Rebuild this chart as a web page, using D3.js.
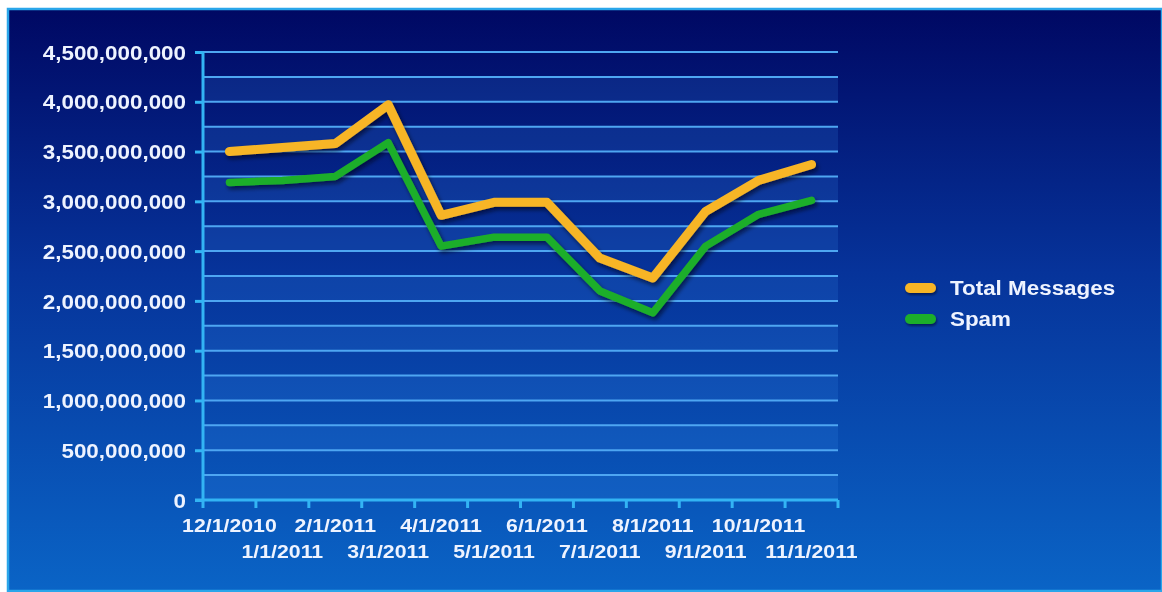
<!DOCTYPE html>
<html>
<head>
<meta charset="utf-8">
<script src="https://cdn.jsdelivr.net/npm/d3@7"></script>
<style>
  html, body { margin: 0; padding: 0; background: #ffffff; }
  svg { display: block; }
  text { font-family: "Liberation Sans", Arial, sans-serif; font-weight: bold; fill: #eef3ff; }
</style>
</head>
<body>
<svg id="chart" width="1162" height="592"></svg>
<script>
// Monthly message volume, Dec 2010 – Nov 2011
const months = ["12/1/2010", "1/1/2011", "2/1/2011", "3/1/2011", "4/1/2011", "5/1/2011",
                "6/1/2011", "7/1/2011", "8/1/2011", "9/1/2011", "10/1/2011", "11/1/2011"];
const totalMessages = [3500000000, 3540000000, 3580000000, 3970000000, 2860000000, 2990000000,
                       2990000000, 2430000000, 2230000000, 2900000000, 3210000000, 3370000000];
const spam = [3190000000, 3210000000, 3250000000, 3590000000, 2550000000, 2640000000,
              2640000000, 2100000000, 1880000000, 2550000000, 2870000000, 3010000000];
const yTicks = [0, 500000000, 1000000000, 1500000000, 2000000000, 2500000000,
                3000000000, 3500000000, 4000000000, 4500000000];
const seriesNames = ["Total Messages", "Spam"];
const seriesColors = ["#f7b526", "#1fae2a"];

const svg = d3.select("#chart");
const W = 1162, H = 592;
const plot = { left: 203, right: 838, top: 52, bottom: 500 };
const stretch = 1.12; // wide lettering

const defs = svg.append("defs");
const bg = defs.append("linearGradient").attr("id", "bg").attr("x1", 0).attr("y1", 0).attr("x2", 0).attr("y2", 1);
bg.append("stop").attr("offset", "0%").attr("stop-color", "#000863");
bg.append("stop").attr("offset", "45%").attr("stop-color", "#06339a");
bg.append("stop").attr("offset", "100%").attr("stop-color", "#0a64c6");

const shadow = defs.append("filter").attr("id", "shadow").attr("filterUnits", "userSpaceOnUse")
  .attr("x", 0).attr("y", 0).attr("width", W).attr("height", H);
shadow.append("feDropShadow").attr("dx", 2).attr("dy", 3).attr("stdDeviation", 2.2)
  .attr("flood-color", "#000010").attr("flood-opacity", 0.6);

const smallShadow = defs.append("filter").attr("id", "smallShadow").attr("filterUnits", "userSpaceOnUse")
  .attr("x", -20).attr("y", -20).attr("width", 80).attr("height", 40);
smallShadow.append("feDropShadow").attr("dx", 1).attr("dy", 2).attr("stdDeviation", 1.2)
  .attr("flood-color", "#000010").attr("flood-opacity", 0.5);

const soft = defs.append("filter").attr("id", "soft");
soft.append("feGaussianBlur").attr("stdDeviation", 0.4);

// Panel with light-blue frame
svg.append("rect").attr("x", 8).attr("y", 9).attr("width", W - 8).attr("height", H - 10)
  .attr("fill", "url(#bg)").attr("stroke", "#2aa6ea").attr("stroke-width", 2.5);

// Scales
const x = d3.scaleBand().domain(months).range([plot.left, plot.right]);
const y = d3.scaleLinear().domain([0, 4500000000]).range([plot.bottom, plot.top]);

// Alternating horizontal bands
const bandStarts = d3.range(0, 4500000000, 500000000);
svg.append("g").selectAll("rect").data(bandStarts).join("rect")
  .attr("x", plot.left).attr("width", plot.right - plot.left)
  .attr("y", d => y(d + 250000000)).attr("height", d => y(d) - y(d + 250000000))
  .attr("fill", "#3d8cf0").attr("fill-opacity", 0.17);

// Gridlines every 250 million
const gridVals = d3.range(250000000, 4500000001, 250000000);
svg.append("g").selectAll("line").data(gridVals).join("line")
  .attr("x1", plot.left).attr("x2", plot.right)
  .attr("y1", d => y(d)).attr("y2", d => y(d))
  .attr("stroke", "#4ea6f2").attr("stroke-width", 2);

function stretchText(sel) {
  sel.each(function () {
    const len = this.getComputedTextLength();
    d3.select(this).attr("textLength", len * stretch).attr("lengthAdjust", "spacingAndGlyphs");
  });
}

// Y axis
const yAxis = svg.append("g").attr("transform", `translate(${plot.left},0)`)
  .call(d3.axisLeft(y).tickValues(yTicks).tickFormat(d3.format(",")).tickSize(8).tickPadding(9));
yAxis.select(".domain").attr("stroke", "#33b4f4").attr("stroke-width", 3).attr("d", `M0,${plot.top}V${plot.bottom}`);
yAxis.selectAll(".tick line").attr("stroke", "#33b4f4").attr("stroke-width", 3).attr("x1", 0);
yAxis.selectAll(".tick text").attr("font-size", 20).attr("fill", "#eef3ff").attr("dy", "0.36em")
  .attr("font-family", "Liberation Sans, Arial, sans-serif").attr("font-weight", "bold")
  .call(stretchText);

// X axis with ticks at band boundaries
const xAxisG = svg.append("g").attr("transform", `translate(0,${plot.bottom})`);
xAxisG.append("line").attr("x1", plot.left - 8).attr("x2", plot.right)
  .attr("stroke", "#33b4f4").attr("stroke-width", 3);
const boundaries = months.map(m => x(m)).concat([x(months[months.length - 1]) + x.bandwidth()]);
xAxisG.selectAll("line.tk").data(boundaries).join("line").attr("class", "tk")
  .attr("x1", d => d).attr("x2", d => d).attr("y1", 0).attr("y2", 8)
  .attr("stroke", "#33b4f4").attr("stroke-width", 3);
xAxisG.selectAll("text").data(months).join("text")
  .attr("x", d => x(d) + x.bandwidth() / 2)
  .attr("y", (d, i) => i % 2 === 0 ? 32 : 58)
  .attr("text-anchor", "middle").attr("font-size", 19)
  .text(d => d).call(stretchText);

// Series lines
const line = d3.line().x((d, i) => x(months[i]) + x.bandwidth() / 2).y(d => y(d));
const series = [totalMessages, spam];
const widths = [9, 7.5];
svg.append("g").attr("filter", "url(#shadow)").selectAll("path").data(series.slice().reverse()).join("path")
  .attr("d", d => line(d)).attr("fill", "none")
  .attr("stroke", (d, i) => seriesColors[series.length - 1 - i])
  .attr("stroke-width", (d, i) => widths[series.length - 1 - i])
  .attr("stroke-linecap", "round").attr("stroke-linejoin", "round");

// Legend
const legend = svg.append("g").attr("transform", "translate(905,288)");
seriesNames.forEach((name, i) => {
  const g = legend.append("g").attr("transform", `translate(0,${i * 31})`);
  g.append("rect").attr("x", 0).attr("y", -5).attr("width", 31).attr("height", 10).attr("rx", 5)
    .attr("fill", seriesColors[i]).attr("filter", "url(#smallShadow)");
  g.append("text").attr("x", 45).attr("y", 0).attr("dy", "0.36em").attr("font-size", 20)
    .text(name).call(stretchText);
});

svg.selectAll("text").attr("filter", "url(#soft)");
</script>
</body>
</html>
